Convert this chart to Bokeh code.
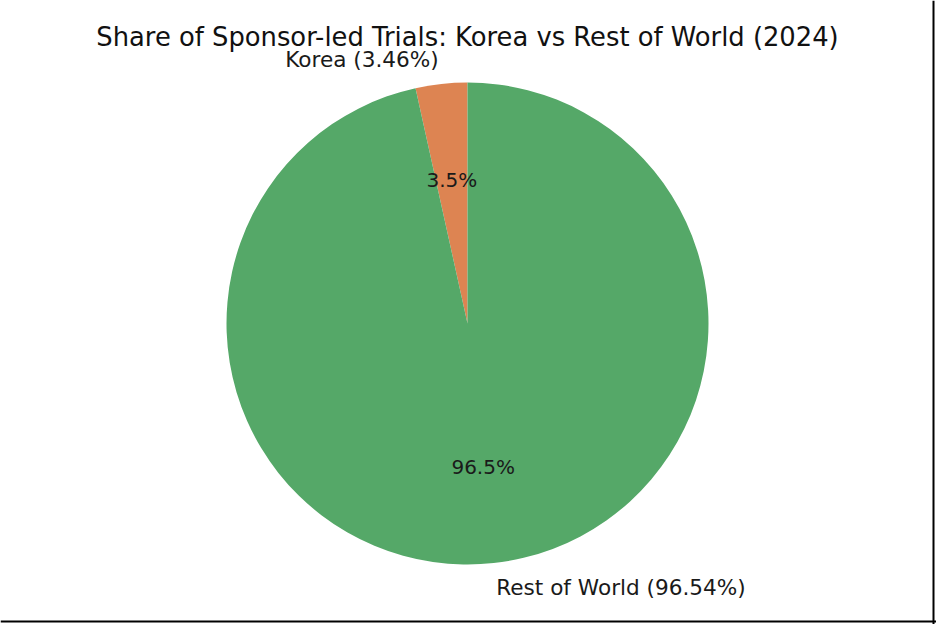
# Korea vs rest of world pie chart

import math

from bokeh.core.properties import value
from bokeh.embed import file_html
from bokeh.models import ColumnDataSource, Range1d, Span
from bokeh.plotting import figure
from bokeh.resources import INLINE

# Data
regions = ["Korea", "Rest of World"]
shares = [3.46, 96.54]
colors = ["#dd8452", "#55a868"]
title_text = "Share of Sponsor-led Trials: Korea vs Rest of World (2024)"

W, H = 936, 624

# Pie geometry (pixel-like data units, y up)
cx, cy, r = 467, 301, 241

total = sum(shares)
starts, ends, mids = [], [], []
a = math.pi / 2
for s in shares:
    span = 2 * math.pi * s / total
    starts.append(a)
    ends.append(a + span)
    mids.append(a + span / 2)
    a += span

src = ColumnDataSource(dict(
    region=regions, share=shares, color=colors,
    start=starts, end=ends,
))

p = figure(width=W, height=H, output_backend="svg", toolbar_location=None,
           x_range=Range1d(0, W), y_range=Range1d(0, H), min_border=0)
p.axis.visible = False
p.grid.visible = False
p.outline_line_color = None

p.wedge(x=cx, y=cy, radius=r, start_angle="start", end_angle="end",
        fill_color="color", line_color=None, source=src)

# Outer labels
lx = [cx + 1.1 * r * math.cos(m) for m in mids]
ly = [cy + 1.1 * r * math.sin(m) for m in mids]
ltxt = [f"{n} ({s:.2f}%)" for n, s in zip(regions, shares)]
lalign = ["right" if math.cos(m) < 0 else "left" for m in mids]
p.text(x=lx, y=ly, text=ltxt, text_align=lalign, text_baseline="middle",
       text_font=value("DejaVu Sans"), text_font_size="21.6px", text_color="#1a1a1a")

# Percentages inside
px = [cx + 0.6 * r * math.cos(m) for m in mids]
py = [cy + 0.6 * r * math.sin(m) for m in mids]
ptxt = [f"{s / total * 100:.1f}%" for s in shares]
p.text(x=px, y=py, text=ptxt, text_align="center", text_baseline="middle",
       text_font=value("DejaVu Sans"), text_font_size="20px", text_color="#1a1a1a")

# Title
p.text(x=[cx], y=[H - 36], text=[title_text], text_align="center",
       text_baseline="middle", text_font=value("DejaVu Sans"),
       text_font_size="25.8px", text_color="#111111")

# Frame lines on the right and bottom
p.add_layout(Span(location=933, dimension="height", line_color="black", line_width=2))
p.add_layout(Span(location=3, dimension="width", line_color="black", line_width=2))

open("out.html", "w").write(file_html(p, INLINE))
